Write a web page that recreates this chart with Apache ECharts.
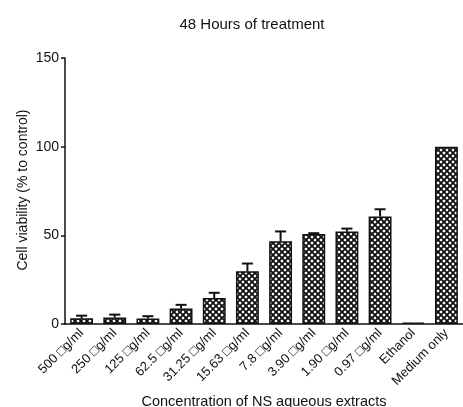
<!DOCTYPE html>
<html><head><meta charset="utf-8">
<script src="https://cdn.jsdelivr.net/npm/echarts@6/dist/echarts.min.js"></script>
<style>html,body{margin:0;padding:0;background:#fff}#c{width:463px;height:407px}</style>
</head><body><div id="c"></div>
<script>
const categories = ["500 \u25A1g/ml","250 \u25A1g/ml","125 \u25A1g/ml","62.5 \u25A1g/ml","31.25 \u25A1g/ml","15.63 \u25A1g/ml","7.8 \u25A1g/ml","3.90 \u25A1g/ml","1.90 \u25A1g/ml","0.97 \u25A1g/ml","Ethanol","Medium only"];
const viability = [3.2, 3.7, 3.1, 8.7, 14.6, 29.7, 46.6, 50.8, 52.1, 60.6, 0.8, 100];
const errorSD = [1.5, 1.6, 1.3, 2.1, 3.0, 4.4, 5.6, 0.4, 1.7, 4.1, 0, 0];
const yTicks = [0, 50, 100, 150];
const yName = 'Cell viability (% to control)';

const FONT = 'Liberation Sans, Arial, sans-serif';
function makePattern(){
  const s = 6, cv = document.createElement('canvas');
  cv.width = s; cv.height = s;
  const g = cv.getContext('2d');
  g.fillStyle = '#fff'; g.fillRect(0,0,s,s);
  g.strokeStyle = '#111'; g.lineWidth = 1.9;
  g.beginPath();
  g.moveTo(-1,-1); g.lineTo(s+1,s+1);
  g.moveTo(s+1,-1); g.lineTo(-1,s+1);
  g.stroke();
  return cv;
}
const chart = echarts.init(document.getElementById('c'));
chart.setOption({
  animation:false,
  title:{text:'48 Hours of treatment', left:247, top:12, textAlign:'center',
    textStyle:{fontFamily:FONT, fontSize:15, fontWeight:'normal', color:'#111'}},
  grid:{left:65, right:0, top:58, bottom:83, containLabel:false, outerBoundsMode:'none'},
  graphic:[{type:'text', x:23, y:190, rotation:Math.PI/2,
    style:{text:yName, fontFamily:FONT, fontSize:14, fill:'#111', textAlign:'center', textVerticalAlign:'middle'}}],
  xAxis:{type:'category', data:categories,
    name:'Concentration of NS aqueous extracts', nameLocation:'middle', nameGap:65,
    nameTextStyle:{fontFamily:FONT, fontSize:14.5, color:'#111'},
    axisLine:{lineStyle:{color:'#111', width:1.5}},
    axisTick:{alignWithLabel:true, length:4, lineStyle:{color:'#111', width:1.2}},
    axisLabel:{rotate:45, interval:0, fontFamily:FONT, fontSize:13, color:'#111', margin:7}},
  yAxis:{type:'value', min:yTicks[0], max:yTicks[yTicks.length-1], interval:50,
    axisLine:{show:true, lineStyle:{color:'#111', width:1.5}},
    axisTick:{show:true, length:4, lineStyle:{color:'#111', width:1.5}},
    splitLine:{show:false},
    axisLabel:{fontFamily:FONT, fontSize:14, color:'#111', margin:6}},
  series:[
    {type:'bar', data:viability, barCategoryGap:'31%',
      itemStyle:{color:{image:makePattern(), repeat:'repeat'}, borderColor:'#111', borderWidth:1.5}},
    {type:'custom', data:viability.map((v,i)=>[i, v, errorSD[i]]), z:5,
      renderItem:function(params, api){
        const i = api.value(0), v = api.value(1), e = api.value(2);
        if(!e) return null;
        const p0 = api.coord([i, v]), p1 = api.coord([i, v+e]);
        const hw = 5.5;
        return {type:'group', children:[
          {type:'line', shape:{x1:p0[0], y1:p0[1], x2:p1[0], y2:p1[1]}, style:{stroke:'#111', lineWidth:2}},
          {type:'line', shape:{x1:p1[0]-hw, y1:p1[1], x2:p1[0]+hw, y2:p1[1]}, style:{stroke:'#111', lineWidth:2}}
        ]};
      }}
  ]
});
</script></body></html>
